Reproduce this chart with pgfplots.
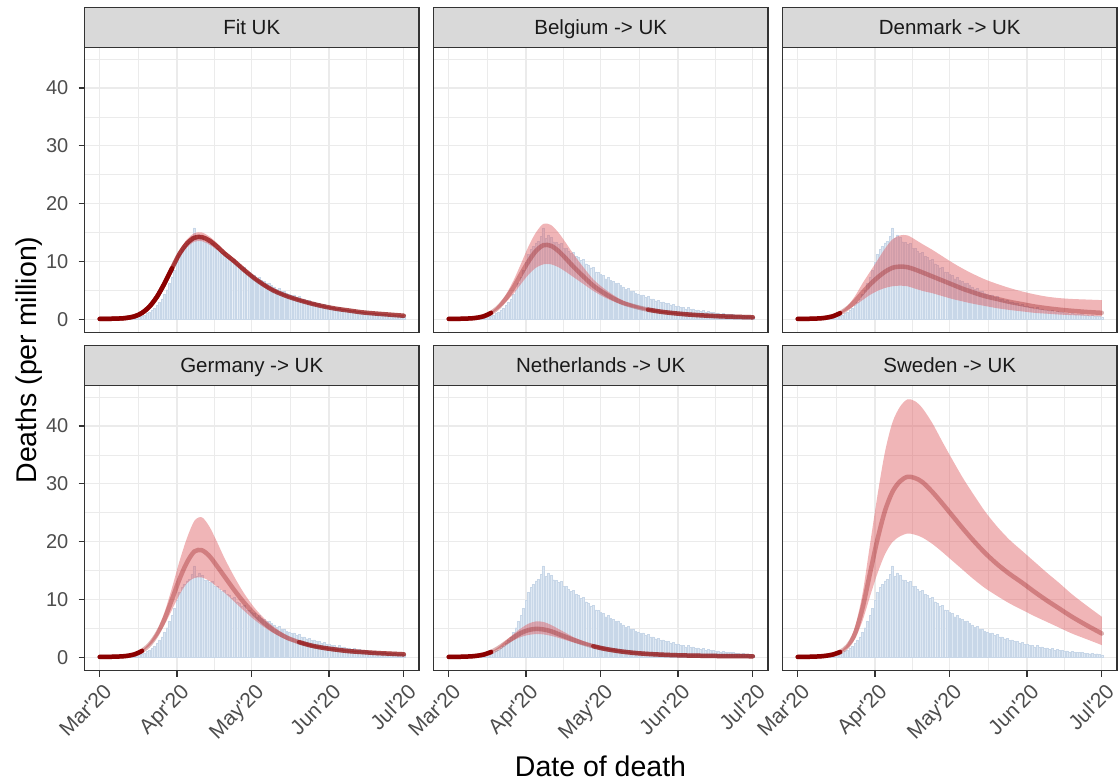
\documentclass[border=0pt]{standalone}
\usepackage{fontspec}
\setmainfont{Liberation Sans}[Ligatures=TeXOff]
\usepackage{pgfplots}
\pgfplotsset{compat=1.18}
\usepackage{pgfplotstable}
\usepgfplotslibrary{fillbetween}

\definecolor{grey10}{HTML}{1A1A1A}
\definecolor{grey20}{HTML}{333333}
\definecolor{grey30}{HTML}{4D4D4D}
\definecolor{grey85}{HTML}{D9D9D9}
\definecolor{grey92}{HTML}{EBEBEB}
\definecolor{barfill}{RGB}{222,232,243}
\definecolor{baredge}{RGB}{200,215,232}
\definecolor{ribbon}{RGB}{222,90,95}
\definecolor{dred}{RGB}{139,0,0}

% observed UK deaths per million (by date of death), day 0 = 1 March 2020
\pgfplotstableread{
d v
8 0.03
9 0.05
10 0.06
11 0.1
12 0.12
13 0.2
14 0.3
15 0.35
16 0.5
17 0.6
18 0.75
19 1.0
20 1.2
21 1.5
22 1.9
23 2.4
24 2.9
25 3.5
26 4.3
27 5.1
28 6.2
29 7.3
30 8.4
31 9.9
32 11.2
33 12.1
34 12.6
35 13.2
36 13.5
37 14.3
38 15.8
39 14.0
40 14.6
41 14.2
42 13.4
43 13.3
44 12.9
45 13.1
46 12.2
47 12.3
48 11.7
49 11.4
50 11.6
51 10.9
52 10.7
53 10.2
54 10.3
55 9.6
56 9.4
57 8.9
58 9.0
59 8.2
60 8.1
61 7.8
62 7.6
63 7.0
64 7.2
65 6.7
66 6.6
67 6.2
68 6.3
69 5.8
70 5.6
71 5.2
72 5.3
73 4.8
74 4.9
75 4.5
76 4.4
77 4.1
78 4.2
79 3.8
80 3.9
81 3.5
82 3.5
83 3.2
84 3.3
85 2.9
86 3.0
87 2.7
88 2.8
89 2.5
90 2.6
91 2.2
92 2.3
93 2.0
94 2.1
95 1.8
96 2.0
97 1.7
98 1.8
99 1.5
100 1.6
101 1.4
102 1.5
103 1.2
104 1.3
105 1.2
106 1.2
107 1.0
108 1.1
109 0.9
110 1.0
111 0.8
112 0.9
113 0.8
114 0.8
115 0.7
116 0.7
117 0.6
118 0.7
119 0.5
120 0.6
121 0.5
122 0.4
}\bars

\pgfplotstableread{
d mean lo hi
0 0.05 0.05 0.05
5 0.08 0.08 0.08
10 0.18 0.17 0.19
14 0.5 0.45 0.55
17 1.1 1.0 1.2
20 2.2 2.0 2.4
23 3.9 3.6 4.2
26 6.2 5.8 6.6
29 8.8 8.3 9.3
32 11.3 10.7 11.9
35 13.1 12.4 13.8
38 14.1 13.4 14.9
41 14.2 13.5 15.0
44 13.6 12.9 14.3
47 12.6 12.0 13.2
50 11.4 10.9 11.9
54 10.0 9.6 10.5
58 8.5 8.1 8.9
62 7.1 6.8 7.4
66 5.9 5.6 6.2
70 4.9 4.7 5.2
75 4.0 3.8 4.2
80 3.3 3.1 3.5
85 2.7 2.5 2.9
90 2.2 2.05 2.35
95 1.8 1.65 1.95
100 1.5 1.38 1.62
105 1.2 1.1 1.32
110 1.0 0.9 1.1
116 0.8 0.72 0.88
122 0.6 0.53 0.68
}\fitUK

\pgfplotstableread{
d mean lo hi
0 0.05 0.05 0.05
5 0.08 0.08 0.08
10 0.18 0.17 0.19
14 0.5 0.45 0.55
17 1.1 0.95 1.25
20 2.1 1.8 2.5
23 3.6 3.0 4.3
26 5.5 4.4 6.7
29 7.8 6.1 9.6
32 10.0 7.7 12.6
35 11.8 8.9 15.0
38 12.8 9.5 16.5
41 12.7 9.5 16.3
44 11.8 9.0 15.0
47 10.5 8.2 13.2
50 9.1 7.3 11.3
54 7.4 6.1 9.0
58 5.8 4.9 6.9
62 4.6 3.9 5.4
66 3.6 3.1 4.2
70 2.8 2.45 3.2
75 2.15 1.9 2.45
80 1.65 1.45 1.85
85 1.3 1.15 1.45
90 1.05 0.94 1.16
95 0.85 0.76 0.94
100 0.7 0.63 0.77
105 0.58 0.52 0.64
110 0.48 0.43 0.53
116 0.4 0.36 0.44
122 0.33 0.3 0.36
}\fitBE

\pgfplotstableread{
d mean lo hi
0 0.05 0.05 0.05
5 0.08 0.08 0.08
10 0.18 0.17 0.19
14 0.5 0.45 0.55
17 1.05 0.9 1.2
20 1.9 1.6 2.3
23 3.1 2.4 4.0
26 4.6 3.3 6.2
29 6.0 4.2 8.2
32 7.2 4.9 10.2
35 8.2 5.4 12.2
38 8.9 5.7 13.8
41 9.1 5.8 14.5
44 9.0 5.7 14.5
47 8.6 5.3 13.8
50 8.1 4.9 13.0
54 7.4 4.5 12.0
58 6.7 4.0 10.9
62 6.0 3.5 9.8
66 5.3 3.1 8.8
70 4.7 2.7 7.9
75 4.0 2.3 6.9
80 3.5 1.9 6.1
85 3.0 1.6 5.4
90 2.6 1.35 4.8
95 2.2 1.1 4.3
100 1.9 0.95 3.9
105 1.65 0.8 3.65
110 1.45 0.7 3.5
116 1.25 0.6 3.4
122 1.1 0.5 3.3
}\fitDK

\pgfplotstableread{
d mean lo hi
0 0.05 0.05 0.05
5 0.08 0.08 0.08
10 0.18 0.17 0.19
14 0.5 0.45 0.55
17 1.1 1.0 1.2
20 2.2 2.0 2.5
23 4.0 3.5 4.6
26 6.6 5.6 7.8
29 10.0 8.2 12.0
32 13.5 10.8 16.6
35 16.4 12.8 20.6
38 18.3 13.7 23.6
41 18.5 13.8 24.2
44 17.5 13.2 22.6
47 15.8 12.2 20.0
50 14.0 11.2 17.2
54 11.6 9.6 13.9
58 9.4 8.0 11.0
62 7.5 6.5 8.6
66 5.9 5.2 6.7
70 4.6 4.1 5.2
75 3.4 3.0 3.8
80 2.6 2.3 2.9
85 2.0 1.8 2.2
90 1.6 1.45 1.75
95 1.3 1.2 1.4
100 1.05 0.97 1.13
105 0.9 0.83 0.97
110 0.75 0.69 0.81
116 0.62 0.57 0.67
122 0.5 0.46 0.54
}\fitDE

\pgfplotstableread{
d mean lo hi
0 0.05 0.05 0.05
5 0.08 0.08 0.08
10 0.18 0.17 0.19
14 0.45 0.42 0.48
17 0.9 0.85 0.95
20 1.6 1.45 1.75
23 2.5 2.2 2.9
26 3.4 2.9 4.0
29 4.2 3.5 5.0
32 4.7 3.85 5.8
35 4.9 4.0 6.2
38 4.8 3.95 6.1
41 4.5 3.7 5.6
44 4.0 3.35 4.9
47 3.5 2.95 4.2
50 3.0 2.55 3.5
54 2.4 2.1 2.8
58 1.9 1.7 2.2
62 1.5 1.35 1.7
66 1.2 1.1 1.35
70 0.95 0.87 1.05
75 0.72 0.66 0.79
80 0.56 0.51 0.61
85 0.45 0.41 0.49
90 0.36 0.33 0.39
95 0.3 0.27 0.33
100 0.26 0.24 0.28
105 0.22 0.2 0.24
110 0.2 0.18 0.22
116 0.18 0.16 0.2
122 0.16 0.14 0.18
}\fitNL

\pgfplotstableread{
d mean lo hi
0 0.05 0.05 0.05
5 0.08 0.08 0.08
10 0.18 0.17 0.19
14 0.45 0.42 0.48
17 0.9 0.8 1.0
20 1.9 1.6 2.3
23 4.1 3.2 5.3
26 8.5 6.3 11.0
29 14.5 10.5 19.5
32 20.4 14.5 28.0
35 25.3 17.8 35.5
38 28.6 19.9 40.6
41 30.4 20.9 43.3
44 31.2 21.4 44.6
47 31.0 21.2 44.3
50 30.3 20.7 43.1
54 28.6 19.6 40.5
58 26.6 18.2 37.3
62 24.5 16.7 34.2
66 22.4 15.2 31.2
70 20.4 13.7 28.5
75 18.1 12.0 25.3
80 16.1 10.6 22.6
85 14.4 9.3 20.3
90 12.9 8.2 18.4
95 11.3 7.1 16.5
100 9.8 6.1 14.6
105 8.4 5.1 12.8
110 7.0 4.1 10.9
116 5.5 3.1 8.9
122 4.1 2.1 7.0
}\fitSE

\pgfplotsset{
  panel/.style={
    scale only axis, width=334.5pt, height=285pt, anchor=south west,
    xmin=-6.1, xmax=128.1, ymin=-2.3, ymax=47,
    xtick={0,31,61,92,122}, ytick={0,10,20,30,40},
    minor xtick={15.5,46,76.5,107}, minor ytick={5,15,25,35,45},
    xticklabels={}, yticklabels={},
    grid=both,
    major grid style={draw=grey92, line width=1.1pt},
    minor grid style={draw=grey92, line width=0.55pt},
    axis line style={draw=grey20, line width=1.3pt},
    tick align=outside, major tick length=6pt, minor tick length=0pt,
    xtick pos=bottom, ytick pos=left,
    xtick style={draw=none}, ytick style={draw=none},
    every axis title/.style={at={(0.5,1)}, anchor=south, fill=grey85, draw=grey20,
      line width=1.3pt, minimum width=334.5pt, minimum height=40pt, inner sep=0pt,
      outer sep=0pt, text=grey10, font=\fontsize{20.5}{24}\selectfont,
      text height=14.7pt, text depth=0pt},
    xticklabel style={rotate=45, anchor=north east, inner sep=1pt, text=grey30,
      xshift=-1pt, yshift=-5pt, font=\fontsize{21}{25}\selectfont},
    yticklabel style={anchor=east, inner sep=3pt, xshift=-7pt, text=grey30,
      font=\fontsize{20}{24}\selectfont},
  },
  showx/.style={xticklabels={Mar'20,Apr'20,May'20,Jun'20,Jul'20},
    xtick style={draw=grey20, line width=1.1pt}},
  showy/.style={yticklabels={0,10,20,30,40},
    ytick style={draw=grey20, line width=1.1pt}},
  obsbars/.style={ybar, bar width=0.75, fill=barfill, draw=baredge,
    line width=0.4pt, on layer=axis grid},
}

\newcommand{\cfplots}[1]{%
  \addplot[obsbars] table[x=d,y=v]{\bars};
  \addplot[name path=U, draw=none, smooth] table[x=d,y=hi]{#1};
  \addplot[name path=L, draw=none, smooth] table[x=d,y=lo]{#1};
  \addplot[fill=ribbon, fill opacity=0.45, draw=none] fill between[of=U and L];
  \addplot[smooth, line width=4.5pt, dred, opacity=0.3, line cap=round] table[x=d,y=mean]{#1};
  \addplot[smooth, line width=4.5pt, dred, line cap=round, restrict x to domain=0:17] table[x=d,y=mean]{#1};
}

\begin{document}
\begin{tikzpicture}
% top row
\begin{axis}[panel, showy, at={(84.5pt,449.5pt)}, title={Fit UK}]
  \addplot[obsbars] table[x=d,y=v]{\bars};
  \addplot[name path=U, draw=none, smooth] table[x=d,y=hi]{\fitUK};
  \addplot[name path=L, draw=none, smooth] table[x=d,y=lo]{\fitUK};
  \addplot[fill=ribbon, fill opacity=0.45, draw=none] fill between[of=U and L];
  \addplot[smooth, line width=4.5pt, dred, opacity=0.7, line cap=round] table[x=d,y=mean]{\fitUK};
  \addplot[smooth, line width=4.5pt, dred, line cap=round, restrict x to domain=0:29] table[x=d,y=mean]{\fitUK};
\end{axis}
\begin{axis}[panel, at={(433.5pt,449.5pt)}, title={Belgium -> UK}]
  \cfplots{\fitBE}
  \addplot[smooth, line width=4.5pt, dred, opacity=0.6, line cap=round, restrict x to domain=80:122] table[x=d,y=mean]{\fitBE};
\end{axis}
\begin{axis}[panel, at={(782.5pt,449.5pt)}, title={Denmark -> UK}]
  \cfplots{\fitDK}
\end{axis}
% bottom row
\begin{axis}[panel, showx, showy, at={(84.5pt,111.5pt)}, title={Germany -> UK}]
  \cfplots{\fitDE}
  \addplot[smooth, line width=4.5pt, dred, opacity=0.6, line cap=round, restrict x to domain=80:122] table[x=d,y=mean]{\fitDE};
\end{axis}
\begin{axis}[panel, showx, at={(433.5pt,111.5pt)}, title={Netherlands -> UK}]
  \cfplots{\fitNL}
  \addplot[smooth, line width=4.5pt, dred, opacity=0.6, line cap=round, restrict x to domain=58:122] table[x=d,y=mean]{\fitNL};
\end{axis}
\begin{axis}[panel, showx, at={(782.5pt,111.5pt)}, title={Sweden -> UK}]
  \cfplots{\fitSE}
\end{axis}
\node[rotate=90, anchor=base, font=\fontsize{28.5}{34}\selectfont] at (36pt,422pt) {Deaths (per million)};
\node[anchor=base, font=\fontsize{28.5}{34}\selectfont] at (600.5pt,5.5pt) {Date of death};
\pgfresetboundingbox
\useasboundingbox (0pt,0pt) rectangle (1118pt,782pt);
\end{tikzpicture}
\end{document}
